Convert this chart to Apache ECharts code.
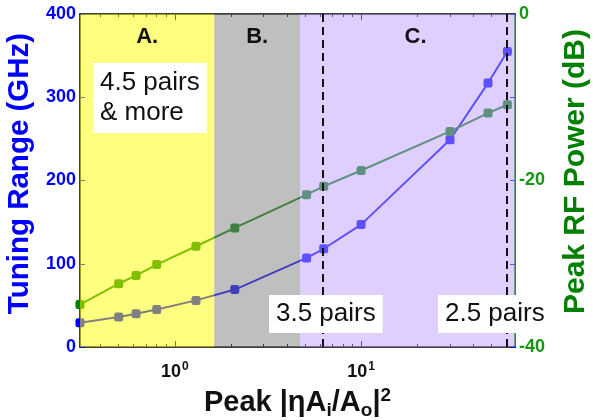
<!DOCTYPE html>
<html>
<head>
<meta charset="utf-8">
<script src="https://cdn.jsdelivr.net/npm/echarts@6/dist/echarts.min.js"></script>
<style>
  html, body { margin: 0; padding: 0; background: #fff; }
  #chart { width: 595px; height: 420px; }
</style>
</head>
<body>
<div id="chart"></div>
<script>
// x: peak |eta Ai/Ao|^2 (log axis)
const peakRatio = [0.31, 0.5, 0.62, 0.8, 1.3, 2.1, 5.1, 6.3, 10, 30, 48, 61]
// left axis: tuning range (GHz)
const tuningRange = [29, 36, 40, 45, 56, 69, 107, 118, 147, 249, 317, 355]
// right axis: peak RF power (dB)
const rfPower = [-34.9, -32.4, -31.4, -30.1, -27.9, -25.7, -21.7, -20.7, -18.8, -14.1, -11.9, -10.9]

// shaded regions A / B / C
const regionNames = ['A.', 'B.', 'C.']
const regionEdges = [0.31, 1.63, 4.7, 67]
// dashed lines for 3.5 and 2.5 pairs
const pairLines = [6.2, 60.5]

const majorTicks = [1, 10]
const minorTicks = [0.4, 0.5, 0.6, 0.7, 0.8, 0.9, 2, 3, 4, 5, 6, 7, 8, 9, 20, 30, 40, 50, 60]

const FONT = 'Liberation Sans, Arial, Helvetica, sans-serif'
const BLUE = '#0000ff'
const GREEN = '#008000'
const regionColors = ['rgba(255,255,0,0.5)', 'rgba(128,128,128,0.5)', 'rgba(190,160,255,0.5)']

const chart = echarts.init(document.getElementById('chart'))

// one log x axis; major/minor ticks drawn by separate copies
function logAxis(position, ticks, len, showLabel, showLine) {
  return {
    type: 'log',
    logBase: 10,
    position: position,
    min: regionEdges[0],
    max: regionEdges[regionEdges.length - 1],
    splitLine: { show: false },
    axisLine: { show: showLine, onZero: false, lineStyle: { color: '#000', width: 1.5 } },
    axisTick: { show: true, inside: true, length: len, customValues: ticks, lineStyle: { color: '#000' } },
    axisLabel: {
      show: showLabel,
      customValues: majorTicks,
      margin: 14,
      formatter: v => '{b|10}{s|' + Math.round(Math.log10(v)) + '}',
      rich: {
        b: { fontSize: 18, fontWeight: 'bold', color: '#111', fontFamily: FONT },
        s: { fontSize: 12, fontWeight: 'bold', color: '#111', fontFamily: FONT, verticalAlign: 'top', padding: [0, 0, 10, 1] }
      }
    }
  }
}

const xMain = logAxis('bottom', majorTicks, 6, true, true)
xMain.name = 'Peak |ηA{sub|i}/A{sub|o}|{sup|2}'
xMain.nameLocation = 'middle'
xMain.nameGap = 36
xMain.nameTextStyle = {
  fontSize: 29, fontWeight: 'bold', color: '#111', fontFamily: FONT,
  rich: {
    sub: { fontSize: 19, fontWeight: 'bold', color: '#111', fontFamily: FONT, padding: [14, 0, 0, 0] },
    sup: { fontSize: 19, fontWeight: 'bold', color: '#111', fontFamily: FONT, padding: [0, 0, 16, 0] }
  }
}

chart.setOption({
  animation: false,
  textStyle: { fontFamily: FONT },
  grid: { left: 80, right: 80, top: 14, bottom: 73, outerBoundsMode: 'none' },
  xAxis: [
    xMain,
    logAxis('bottom', minorTicks, 3, false, false),
    logAxis('top', majorTicks, 6, false, true),
    logAxis('top', minorTicks, 3, false, false)
  ],
  yAxis: [
    {
      type: 'value',
      position: 'left',
      min: 0,
      max: 400,
      interval: 100,
      name: 'Tuning Range (GHz)',
      nameLocation: 'middle',
      nameRotate: 90,
      nameGap: 30,
      // left padding nudges the rotated title upward a little
      nameTextStyle: { fontSize: 29.5, fontWeight: 'bold', color: BLUE, fontFamily: FONT, padding: [0, 0, 0, 14] },
      splitLine: { show: false },
      axisLine: { show: true, lineStyle: { color: '#000', width: 1.5 } },
      axisTick: { inside: true, length: 5, lineStyle: { color: BLUE } },
      axisLabel: { margin: 4, fontSize: 18, fontWeight: 'bold', color: BLUE }
    },
    {
      type: 'value',
      position: 'right',
      min: -40,
      max: 0,
      interval: 20,
      name: 'Peak RF Power (dB)',
      nameLocation: 'middle',
      nameRotate: 90,
      nameGap: 46,
      nameTextStyle: { fontSize: 30, fontWeight: 'bold', color: GREEN, fontFamily: FONT, padding: [0, 0, 0, 18] },
      splitLine: { show: false },
      axisLine: { show: true, lineStyle: { color: '#1a9a1a', width: 2 } },
      axisTick: { inside: true, length: 5, lineStyle: { color: GREEN } },
      axisLabel: { margin: 4, fontSize: 18, fontWeight: 'bold', color: '#159515' }
    },
    {
      // blue ticks of the left scale mirrored on the right edge
      type: 'value',
      position: 'right',
      min: 0,
      max: 400,
      interval: 100,
      splitLine: { show: false },
      axisLine: { show: false },
      axisTick: { inside: true, length: 5, lineStyle: { color: BLUE } },
      axisLabel: { show: false }
    }
  ],
  series: [
    {
      name: 'Tuning Range',
      type: 'line',
      xAxisIndex: 0,
      yAxisIndex: 0,
      z: 2,
      clip: false,
      data: peakRatio.map((x, i) => [x, tuningRange[i]]),
      symbol: 'roundRect',
      symbolSize: 9,
      lineStyle: { color: BLUE, width: 2 },
      itemStyle: { color: BLUE }
    },
    {
      name: 'Peak RF Power',
      type: 'line',
      xAxisIndex: 0,
      yAxisIndex: 1,
      z: 2,
      clip: false,
      data: peakRatio.map((x, i) => [x, rfPower[i]]),
      symbol: 'roundRect',
      symbolSize: 9,
      lineStyle: { color: GREEN, width: 2 },
      itemStyle: { color: GREEN }
    },
    {
      // translucent regions laid over the curves, plus dashed pair lines
      type: 'line',
      xAxisIndex: 0,
      yAxisIndex: 0,
      z: 3,
      data: [],
      silent: true,
      markArea: {
        silent: true,
        z: 3,
        label: {
          show: true,
          position: 'insideTop',
          distance: 12,
          fontSize: 22,
          fontWeight: 'bold',
          color: '#111',
          fontFamily: FONT
        },
        data: regionNames.map((name, i) => [
          {
            name: name,
            xAxis: regionEdges[i],
            itemStyle: { color: regionColors[i] },
            label: { offset: [i === 2 ? 8 : 0, 0] }
          },
          { xAxis: regionEdges[i + 1] }
        ])
      },
      markLine: {
        silent: true,
        z: 6,
        symbol: 'none',
        label: { show: false },
        lineStyle: { color: '#111', width: 2, type: [8, 5] },
        data: pairLines.map(v => ({ xAxis: v }))
      }
    }
  ],
  graphic: [
    {
      type: 'text', left: 93, top: 63, z: 100,
      style: {
        text: '4.5 pairs\n& more', fontSize: 26, fontFamily: FONT, fill: '#111',
        backgroundColor: '#fff', padding: [5, 7], lineHeight: 30
      }
    },
    {
      type: 'text', left: 269, top: 295, z: 100,
      style: {
        text: '3.5 pairs', fontSize: 26, fontFamily: FONT, fill: '#111',
        backgroundColor: '#fff', padding: [5, 7], lineHeight: 28
      }
    },
    {
      type: 'text', left: 438, top: 295, z: 100,
      style: {
        text: '2.5 pairs', fontSize: 26, fontFamily: FONT, fill: '#111',
        backgroundColor: '#fff', padding: [5, 7], lineHeight: 28
      }
    }
  ]
})
</script>
</body>
</html>
